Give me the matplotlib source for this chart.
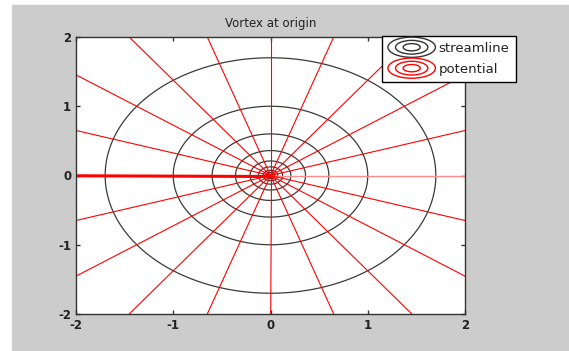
import numpy as np
import matplotlib
matplotlib.use('Agg')
import matplotlib.pyplot as plt
from matplotlib.patches import Ellipse, Rectangle
from matplotlib.legend_handler import HandlerBase
from matplotlib.lines import Line2D

plt.rcParams['axes.unicode_minus'] = False

# streamline radii (circles around the vortex)
stream_radii = [1.70, 1.00, 0.60, 0.36, 0.21, 0.125, 0.075, 0.045]
# potential lines: angles in degrees, every 18 deg
pot_angles = [0, 18, 36, 54, 72, 90, 108, 126, 144, 162, 180,
              198, 216, 234, 252, 270, 288, 306, 324, 342]
x_ticks = [-2, -1, 0, 1, 2]
y_ticks = [-2, -1, 0, 1, 2]


class RingHandler(HandlerBase):
    # legend icon drawn as concentric ellipses like a contour plot
    def __init__(self, col):
        super().__init__()
        self.col = col

    def create_artists(self, legend, orig_handle, xdescent, ydescent,
                       width, height, fontsize, trans):
        cx = width / 2 - xdescent
        cy = height / 2 - ydescent
        arts = []
        for s in [1.0, 0.68, 0.36]:
            e = Ellipse((cx, cy), width * s, height * 2.0 * s,
                        facecolor='none', edgecolor=self.col, lw=1.0,
                        transform=trans)
            arts.append(e)
        return arts


fig = plt.figure(figsize=(5.69, 3.51), dpi=100)
fig.patch.set_facecolor('white')
fig.patches.append(Rectangle((12 / 569, 0), 1, (351 - 5) / 351,
                             transform=fig.transFigure, color='#cccccc',
                             zorder=-10))

ax = fig.add_axes([76 / 569, 37 / 351, 389 / 569, 277 / 351])

# streamlines: contours of ln r on a grid
xg = np.linspace(-2, 2, 801)
X, Y = np.meshgrid(xg, xg)
R = np.sqrt(X ** 2 + Y ** 2)
ax.contour(X, Y, np.log(R + 1e-12), levels=np.log(stream_radii[::-1]),
           colors='#3a3a3a', linewidths=0.9, linestyles='solid')

# potential lines: rays from the origin
for a in pot_angles:
    t = np.deg2rad(a)
    col, lw = 'red', 0.8
    if a == 180:
        lw = 2.2
    elif a == 0:
        col, lw = '#ff8c8c', 1.0
    ax.plot([0, 4 * np.cos(t)], [0, 4 * np.sin(t)], color=col, lw=lw,
            solid_capstyle='butt')

ax.set_xlim(-2, 2)
ax.set_ylim(-2, 2)
ax.set_xticks(x_ticks)
ax.set_yticks(y_ticks)
ax.tick_params(direction='in', length=3, width=1, labelsize=8.5,
               top=True, right=True, colors='#333333', labelcolor='#222222')
for lb in ax.get_xticklabels() + ax.get_yticklabels():
    lb.set_fontweight('bold')
for sp in ax.spines.values():
    sp.set_color('#333333')
    sp.set_linewidth(1.0)
ax.set_title('Vortex at origin', fontsize=8.5, color='#222222', pad=7)

h1 = Line2D([], [], color='k')
h2 = Line2D([], [], color='r')
leg = ax.legend([h1, h2], ['streamline', 'potential'],
                handler_map={h1: RingHandler('#333333'), h2: RingHandler('red')},
                loc='upper left', bbox_to_anchor=(306 / 389, 1.004),
                fontsize=9.5, frameon=True, fancybox=False, framealpha=1,
                edgecolor='black', handlelength=3.6, handleheight=0.8,
                handletextpad=0.25, borderpad=0.45, labelspacing=0.6,
                borderaxespad=0)
leg.get_frame().set_linewidth(1.0)
for t in leg.get_texts():
    t.set_color('#222222')

fig.savefig('out.png', dpi=100)
